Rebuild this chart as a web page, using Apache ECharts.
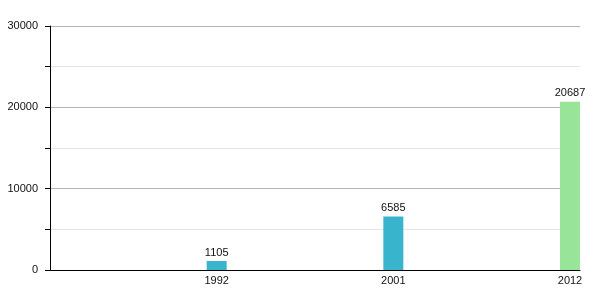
<!DOCTYPE html>
<html>
<head>
<meta charset="utf-8">
<script src="https://cdn.jsdelivr.net/npm/echarts@6/dist/echarts.min.js"></script>
<style>html,body{margin:0;padding:0;background:#fff;}#c{width:600px;height:300px;}</style>
</head>
<body>
<div id="c"></div>
<script>
const years = ['1992', '2001', '2012'];
const values = [1105, 6585, 20687];
const yTicks = [0, 10000, 20000, 30000];

const categories = [''].concat(years);
const seriesData = [null].concat(values);
const highlightYear = '2012';

const chart = echarts.init(document.getElementById('c'), null, {renderer: 'canvas'});
chart.setOption({
  animation: false,
  textStyle: {fontFamily: 'Liberation Sans, Arial, sans-serif'},
  grid: {left: 50, right: 20, top: 26, bottom: 30, containLabel: false},
  xAxis: {
    type: 'category',
    data: categories,
    boundaryGap: false,
    axisLine: {lineStyle: {color: '#000', width: 1}},
    axisTick: {show: false},
    axisLabel: {color: '#111', fontSize: 11, margin: 5, padding: [0, 20, 0, 0], interval: 0},
    splitLine: {show: false}
  },
  yAxis: {
    type: 'value',
    min: yTicks[0],
    max: yTicks[yTicks.length - 1],
    interval: 10000,
    axisLine: {show: true, lineStyle: {color: '#000', width: 1}},
    axisTick: {show: true, length: 5, lineStyle: {color: '#000'}},
    minorTick: {show: true, splitNumber: 2, length: 5, lineStyle: {color: '#000'}},
    axisLabel: {color: '#111', fontSize: 11, margin: 12, formatter: function (v) { return String(v); }},
    splitLine: {show: true, lineStyle: {color: '#b4b4b4', width: 1}},
    minorSplitLine: {show: true, lineStyle: {color: '#e6e6e6', width: 1}}
  },
  series: [
    {
      type: 'bar',
      data: seriesData,
      barWidth: 20,
      barGap: '0%',
      itemStyle: {
        color: function (p) { return p.name === highlightYear ? '#98e498' : '#38b4cc'; }
      },
      label: {show: true, position: 'top', color: '#111', fontSize: 11, distance: 3}
    },
    {
      type: 'bar',
      data: categories.map(function () { return null; }),
      barWidth: 20,
      barGap: '0%'
    }
  ]
});
</script>
</body>
</html>
